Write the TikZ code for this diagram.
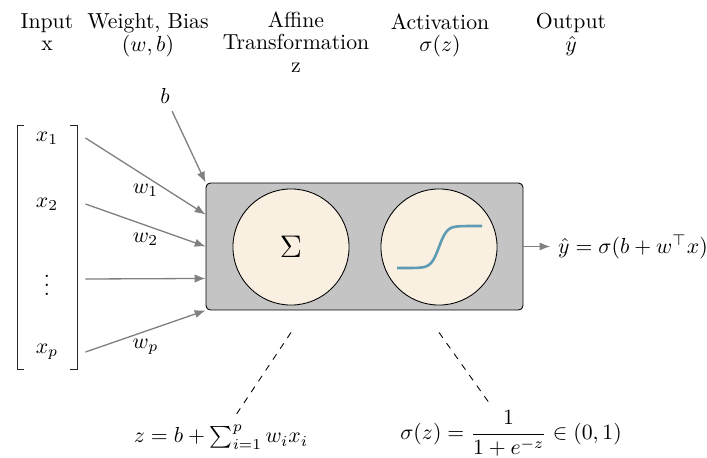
\documentclass[tikz,border=0pt]{standalone}
\usepackage{amsmath,amssymb}
\usepackage{xcolor}
\usepackage{tikz}
\usetikzlibrary{
  arrows.meta,
  calc,
  positioning
}
\definecolor{NeuronGray}{RGB}{196,196,196}
\definecolor{UnitCream}{RGB}{250,240,226}
\definecolor{SigmoidBlue}{RGB}{94,156,180}
\definecolor{LinkGray}{RGB}{128,128,128}

\begin{document}
\begin{tikzpicture}[
  x=0.46pt, y=-0.46pt,
  >={Latex[length=5pt,width=3.8pt]},
  head/.style={anchor=north, align=center, inner sep=0pt,
               font=\fontsize{10pt}{10.4pt}\selectfont},
  entry/.style={minimum width=35pt, inner sep=0pt},
  unit/.style={draw, circle, fill=UnitCream, minimum size=53.4pt, inner sep=0pt},
  arr/.style={->, draw=LinkGray, fill=LinkGray, line width=0.6pt},
  bracket/.style={line width=0.4pt, draw=black!85},
]
  \useasboundingbox (0,0) rectangle (707,457);

  \node[head] (hin)  at (47,13)  {Input\\x};
  \node[head] (hwb)  at (148,13) {Weight, Bias\\$(w,b)$};
  \node[head] (haff) at (296,11) {Affine\\Transformation\\z};
  \node[head] (hact) at (440,13) {Activation\\$\sigma(z)$};
  \node[head] (hout) at (571,13) {Output\\$\hat{y}$};

  \node[entry] (x1) at (47,138) {$x_1$};
  \node[entry] (x2) at (47,204) {$x_2$};
  \node[entry] (xd) at (47,279) {$\vdots$};
  \node[entry] (xp) at (47,352) {$x_p$};
  \draw[bracket] (24,125) -- (17,125) -- (17,369) -- (24,369);
  \draw[bracket] (70,125) -- (77,125) -- (77,369) -- (70,369);

  \node[draw, rounded corners=2pt, fill=NeuronGray, minimum width=145.8pt,
        minimum height=58.4pt, inner sep=0pt] (box) at (364.5,246.5) {};
  \node[unit] (sum) at (291,247) {\Large$\Sigma$};
  \node[unit] (act) at (439,247) {};
  \draw[SigmoidBlue, line width=1.2pt, shift={(act)}]
    plot[domain=-42:43, samples=60, smooth] (\x, {-21*tanh(\x/8)});

  \node (b) at (165,96) {$b$};
  \node[right=12.4pt of box] (yhat) {$\hat{y} = \sigma(b + w^{\top} x)$};

  \draw[arr] (b) -- (box.north west);
  \draw[arr] (x1.east) -- node[below] {$w_1$} ($(box.north west)!0.25!(box.south west)$);
  \draw[arr] (x2.east) -- node[below] {$w_2$} ($(box.north west)!0.5!(box.south west)$);
  \draw[arr] (xd.east) -- ($(box.north west)!0.75!(box.south west)$);
  \draw[arr] (xp.east) -- node[below] {$w_p$} (box.south west);
  \draw[arr] (box.east) -- (yhat.west);

  \node[anchor=south] (zeq) at (221,457) {$z = b + \sum_{i=1}^{p} w_i x_i$};
  \node[anchor=south] (sigeq) at (511,464) {$\sigma(z) = \dfrac{1}{1 + e^{-z}} \in (0,1)$};
  \coordinate (zsrc) at ($(sum.south)+(0,27)$);
  \coordinate (sigsrc) at ($(act.south)+(0,27)$);
  \draw[dashed] (zsrc) -- (zeq);
  \draw[dashed] (sigsrc) -- (sigeq);
\end{tikzpicture}
\end{document}
